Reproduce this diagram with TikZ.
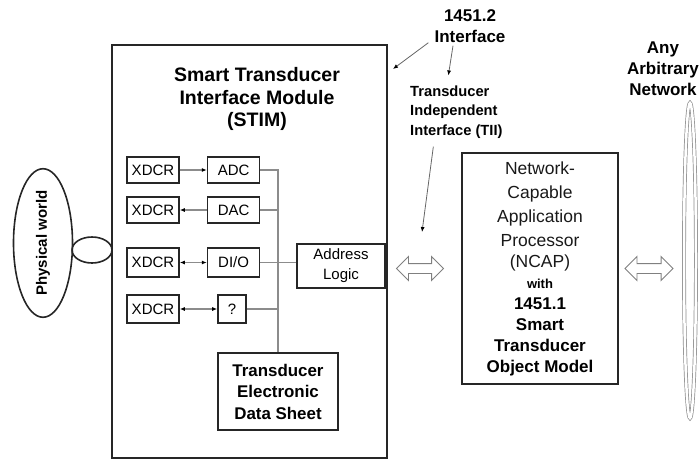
\documentclass[tikz,border=0pt]{standalone}
\usepackage{fontspec}
\setmainfont{Liberation Sans}
\usetikzlibrary{shapes.geometric, shapes.arrows, arrows.meta, positioning, calc}

\begin{document}
\begin{tikzpicture}[x=1pt, y=-1pt, >={Latex[length=5pt, width=4pt, color=black]},
          blockbox/.style={rectangle, draw=black!85, line width=1.6pt, inner sep=0pt},
          smallbox/.style={blockbox, minimum width=52pt, minimum height=26pt, font=\fontsize{15}{18}\selectfont},
          boldtext/.style={font=\bfseries\fontsize{17}{21}\selectfont, align=center, inner sep=0pt},
          wire/.style={draw=black!45, line width=1.1pt},
          ptr/.style={->, draw=black!60, line width=0.8pt},
          hollow/.style={double arrow, draw=black!50, fill=white, line width=0.9pt, minimum width=23pt, inner sep=4.5pt, double arrow head extend=7pt, double arrow tip angle=90}]

        \useasboundingbox (0,0) rectangle (699,461);

        % STIM side
        \node [blockbox, minimum width=275pt, minimum height=413pt] (stim) at (249.5,251.5) {};
        \node [boldtext, font=\bfseries\fontsize{19.5}{22.5}\selectfont] (stimlbl) at (257,99) {Smart Transducer\\Interface Module\\(STIM)};

        \node [ellipse, draw=black!85, line width=1.6pt, rotate=90, minimum width=131pt, minimum height=59pt, inner sep=0pt,
               font=\bfseries\fontsize{15}{17}\selectfont] (phys) at (43,243) {Physical world};
        \node [ellipse, draw=black!85, line width=1.6pt, minimum width=40pt, minimum height=26pt, inner sep=0pt] (link) at (92,250) {};

        \node [smallbox] (xdcr1) at (153,170) {XDCR};
        \node [smallbox] (xdcr2) at (153,210) {XDCR};
        \node [smallbox, minimum height=29pt] (xdcr3) at (153,262.5) {XDCR};
        \node [smallbox, minimum height=28pt] (xdcr4) at (153,309) {XDCR};

        \node [smallbox, right=27pt of xdcr1] (adc) {ADC};
        \node [smallbox, right=27pt of xdcr2] (dac) {DAC};
        \node [smallbox, minimum height=29pt, right=27pt of xdcr3] (dio) {DI/O};
        \node [smallbox, minimum width=28pt, minimum height=28pt] (unk) at (232,309) {?};

        \node [blockbox, minimum width=88pt, minimum height=44pt, align=center, font=\fontsize{15}{20}\selectfont] (addr) at (341,266) {Address\\Logic};
        \node [blockbox, minimum width=120pt, minimum height=77pt, boldtext, font=\bfseries\fontsize{16.9}{21.5}\selectfont] (teds) at (278,391.5) {Transducer\\Electronic\\Data Sheet};

        \coordinate (bustop) at (278,170);

        \draw [wire, ->] (xdcr1) -- (adc);
        \draw [wire, ->] (dac) -- (xdcr2);
        \draw [wire, <->] (xdcr3) -- (dio);
        \draw [wire, <->] (xdcr4) -- (unk);

        \draw [wire] (adc.east) -- (bustop) -- (teds.north);
        \draw [wire] (dac.east) -- (dac.east -| bustop);
        \draw [wire] (unk.east) -- (unk.east -| bustop);
        \draw [wire] (dio.east) -- (dio.east -| addr.west);

        % interface labels
        \node [boldtext] (iface) at (470,26) {1451.2\\Interface};
        \node [boldtext, font=\bfseries\fontsize{14.7}{19.5}\selectfont, align=left, anchor=west] (tii) at (410,112) {Transducer\\Independent\\Interface (TII)};
        \coordinate (stimtip) at (393,69);
        \coordinate (tiiend) at (422,232);

        \draw [ptr] ($(iface.south west)+(-6,0)$) -- (stimtip);
        \draw [ptr] ($(iface.south)+(-17,3)$) -- ($(tii.north)+(-8,-10)$);
        \draw [ptr] ($(tii.south)+(-23,8)$) -- (tiiend);

        % NCAP side
        \node [blockbox, minimum width=156pt, minimum height=231pt, align=center, font=\fontsize{17.5}{21}\selectfont, text=black!90] (ncap) at (540,268.5)
              {Network-\\[3pt]Capable\\[3pt]Application\\[3pt]Processor\\(NCAP)\\
               {\color{black}\bfseries\fontsize{13}{21}\selectfont with}\\
               {\color{black}\bfseries\fontsize{17}{21}\selectfont 1451.1}\\
               {\color{black}\bfseries\fontsize{17}{21}\selectfont Smart}\\
               {\color{black}\bfseries\fontsize{17}{21}\selectfont Transducer}\\
               {\color{black}\bfseries\fontsize{17}{21}\selectfont Object Model}};

        \node [boldtext] (anynet) at (663,69) {Any\\Arbitrary\\Network};
        \node [ellipse, draw=black!45, double=white, double distance=2.5pt, line width=0.7pt, minimum width=12pt, minimum height=315pt, inner sep=0pt] (net) at (690,260.5) {};

        \node [hollow, minimum height=47pt] (dbl1) at (420,268.5) {};
        \node [hollow, minimum height=48pt] (dbl2) at (649,268.5) {};
      \end{tikzpicture}
\end{document}
